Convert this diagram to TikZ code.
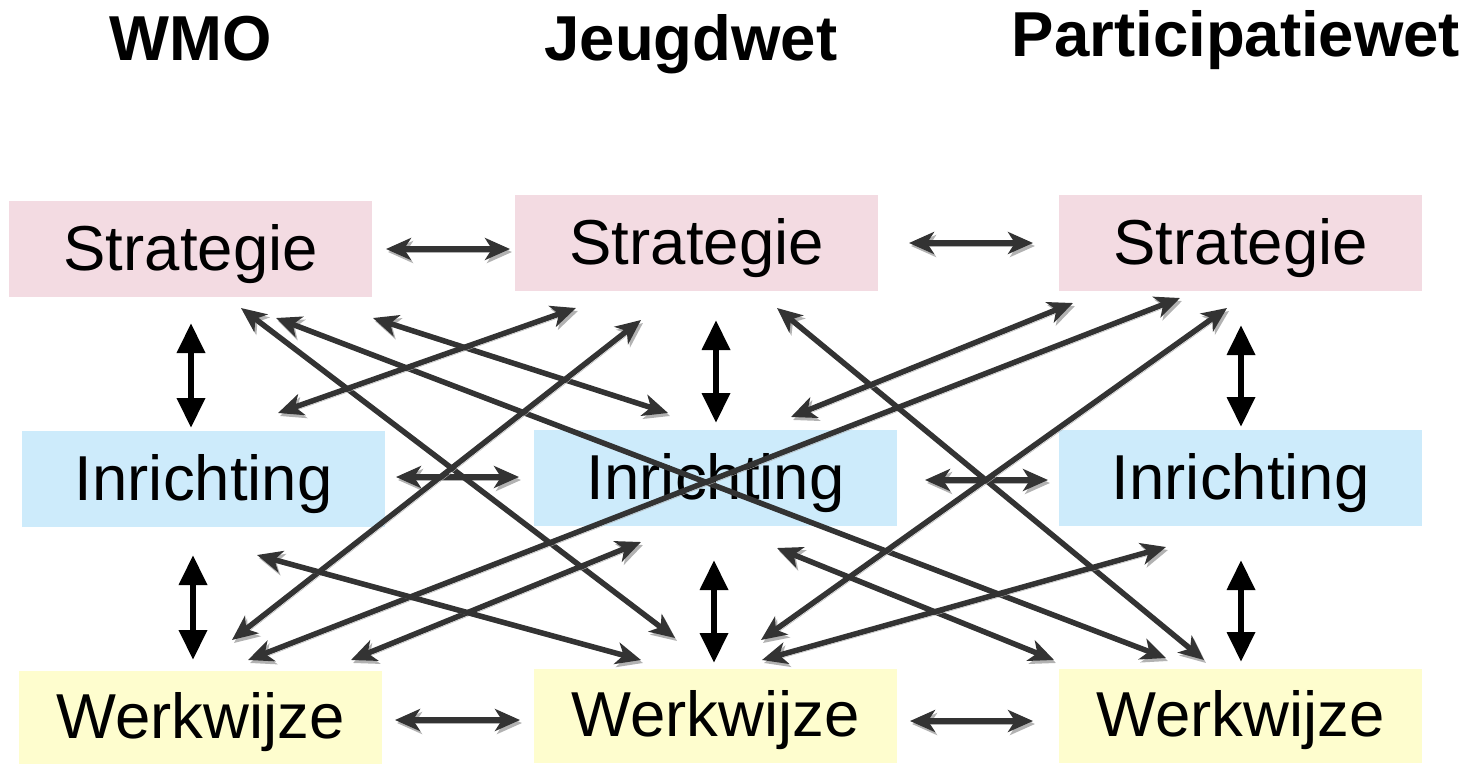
\documentclass[tikz,border=0pt]{standalone}
\usepackage{fontspec}
\setmainfont{Liberation Sans}
\usetikzlibrary{arrows.meta}
\definecolor{pinkc}{HTML}{F3DBE2}
\definecolor{bluec}{HTML}{CDEBFB}
\definecolor{yelc}{HTML}{FEFDCE}
\definecolor{arrc}{HTML}{333333}
\begin{document}
\begin{tikzpicture}[x=1pt,y=-1pt,
 box/.style={inner sep=0pt, minimum width=363pt, text height=69pt, text depth=27pt,
   font=\fontsize{63.5}{70}\selectfont, anchor=north west},
 heading/.style={font=\bfseries\fontsize{63.5}{70}\selectfont, anchor=base, inner sep=0pt},
 link/.style={draw=arrc, line width=5.5pt,
   {Stealth[length=25pt,width=22pt,inset=7pt]}-{Stealth[length=25pt,width=22pt,inset=7pt]},
   preaction={draw=black!30, transform canvas={shift={(2pt,-3pt)}}}},
 vlink/.style={draw=black, line width=6.5pt,
   {Triangle[length=30pt,width=27pt]}-{Triangle[length=30pt,width=27pt]}}
]
\useasboundingbox (0,0) rectangle (1477,763);

% headings
\node[heading] (hW) at (190.5,60) {WMO};
\node[heading] (hJ) at (691,60) {Jeugdwet};
\node[heading] (hP) at (1236,56) {Participatiewet};

% boxes
\node[box, fill=pinkc] (sW) at (9,201) {Strategie};
\node[box, fill=pinkc] (sJ) at (515,195) {Strategie};
\node[box, fill=pinkc] (sP) at (1059,195) {Strategie};
\node[box, fill=bluec] (iW) at (22,431) {Inrichting};
\node[box, fill=bluec] (iJ) at (534,430) {Inrichting};
\node[box, fill=bluec] (iP) at (1059,430) {Inrichting};
\node[box, fill=yelc, text height=67pt, text depth=27pt] (wW) at (19,671) {Werkwijze};
\node[box, fill=yelc, text height=67pt, text depth=27pt] (wJ) at (534,669) {Werkwijze};
\node[box, fill=yelc, text height=67pt, text depth=27pt] (wP) at (1059,669) {Werkwijze};

% connector end points
\coordinate (h1a) at (386,249);  \coordinate (h1b) at (510,249);
\coordinate (h2a) at (909,243);  \coordinate (h2b) at (1033,243);
\coordinate (h3a) at (396,477);  \coordinate (h3b) at (519,477);
\coordinate (h4a) at (925,480);  \coordinate (h4b) at (1048,480);
\coordinate (h5a) at (395,720);  \coordinate (h5b) at (520,720);
\coordinate (h6a) at (910,721);  \coordinate (h6b) at (1033,721);

\coordinate (v1a) at (191,323);  \coordinate (v1b) at (191,428);
\coordinate (v2a) at (716,320);  \coordinate (v2b) at (716,423);
\coordinate (v3a) at (1241,325); \coordinate (v3b) at (1241,427);
\coordinate (v4a) at (193,555);  \coordinate (v4b) at (193,660);
\coordinate (v5a) at (714,560);  \coordinate (v5b) at (714,663);
\coordinate (v6a) at (1241,560); \coordinate (v6b) at (1241,662);

\coordinate (dAa) at (241,308);  \coordinate (dAb) at (675,638);
\coordinate (dBa) at (276,318);  \coordinate (dBb) at (1166,658);
\coordinate (dCa) at (373,318);  \coordinate (dCb) at (668,413);
\coordinate (dDa) at (576,308);  \coordinate (dDb) at (278,413);
\coordinate (dEa) at (641,320);  \coordinate (dEb) at (232,640);
\coordinate (dGa) at (1180,298); \coordinate (dGb) at (248,660);
\coordinate (dHa) at (641,542);  \coordinate (dHb) at (351,660);
\coordinate (dIa) at (257,555);  \coordinate (dIb) at (641,660);
\coordinate (dKa) at (777,308);  \coordinate (dKb) at (1204,660);
\coordinate (dLa) at (1073,303); \coordinate (dLb) at (791,417);
\coordinate (dMa) at (1227,308); \coordinate (dMb) at (761,640);
\coordinate (dOa) at (777,548);  \coordinate (dOb) at (1054,660);
\coordinate (dPa) at (1166,547); \coordinate (dPb) at (762,660);

% horizontal connectors
\foreach \n in {h1,h2,h3,h4,h5,h6} \draw[link] (\n a) -- (\n b);
% vertical connectors
\foreach \n in {v1,v2,v3,v4,v5,v6} \draw[vlink] (\n a) -- (\n b);
% diagonal connectors
\foreach \n in {dA,dB,dC,dD,dE,dG,dH,dI,dK,dL,dM,dO,dP} \draw[link] (\n a) -- (\n b);
\end{tikzpicture}
\end{document}
